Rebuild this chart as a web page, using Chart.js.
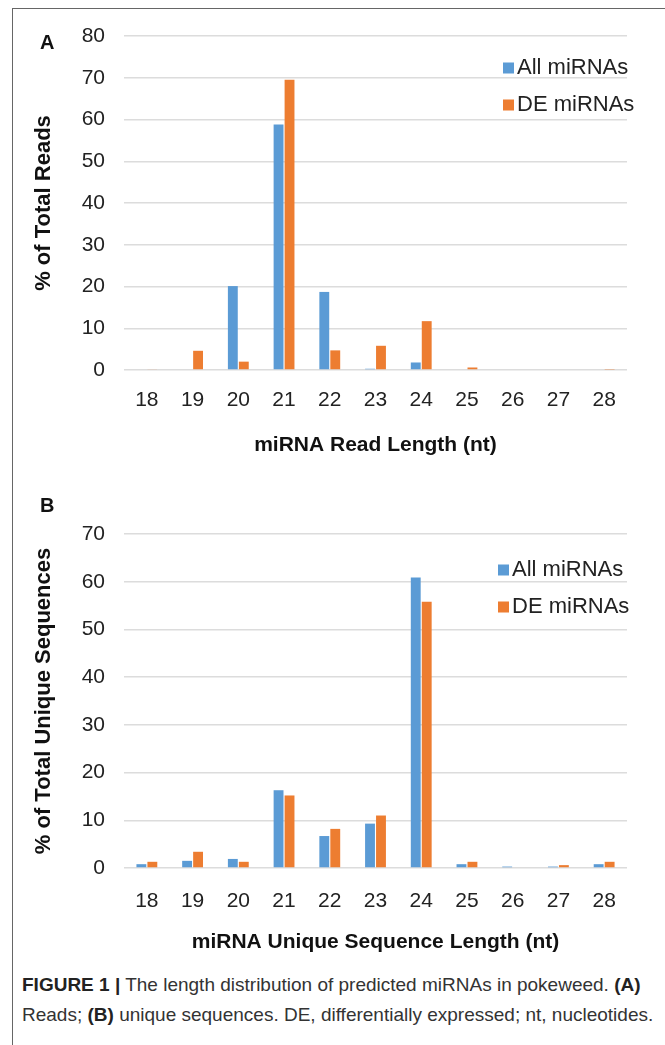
<!DOCTYPE html>
<html>
<head>
<meta charset="utf-8">
<script src="https://cdn.jsdelivr.net/npm/chart.js@4/dist/chart.umd.min.js"></script>
<style>
  body { margin: 0; background: #fff; width: 665px; height: 1045px; position: relative; overflow: hidden; font-family: "Liberation Sans", Arial, sans-serif; }
  #frame { position: absolute; left: 12px; top: 8px; width: 700px; height: 1100px; border-left: 1.5px solid #666; border-top: 1.5px solid #666; }
  .wrap { position: absolute; left: 0; width: 665px; }
  .panel { position: absolute; left: 40px; font-weight: bold; font-size: 20px; color: #111; }
  #caption { position: absolute; left: 22px; top: 970px; font-family: "Liberation Sans Narrow", "Liberation Sans", sans-serif; font-size: 19px; line-height: 30px; color: #333; }
  #caption b { color: #222; }
</style>
</head>
<body>
<div id="frame"></div>
<div class="wrap" style="top:0; height:470px"><canvas id="chartA"></canvas></div>
<div class="wrap" style="top:470px; height:500px"><canvas id="chartB"></canvas></div>
<div class="panel" style="top:31px">A</div>
<div class="panel" style="top:494px">B</div>
<div id="caption"><b>FIGURE 1 |</b> The length distribution of predicted miRNAs in pokeweed. <b>(A)</b><br>Reads; <b>(B)</b> unique sequences. DE, differentially expressed; nt, nucleotides.</div>
<script>
const lengths = ['18', '19', '20', '21', '22', '23', '24', '25', '26', '27', '28'];
const seriesNames = ['All miRNAs', 'DE miRNAs'];
const readsAll = [0, 0, 20.1, 58.8, 18.7, 0.3, 1.8, 0, 0, 0, 0];
const readsDE = [0.2, 4.6, 2.0, 69.5, 4.7, 5.8, 11.7, 0.6, 0, 0, 0.1];
const uniqueAll = [0.8, 1.5, 1.9, 16.3, 6.7, 9.3, 60.9, 0.8, 0.3, 0.3, 0.8];
const uniqueDE = [1.3, 3.4, 1.3, 15.2, 8.2, 11.0, 55.8, 1.3, 0, 0.6, 1.3];
const colors = ['#5B9BD5', '#ED7D31'];

// legend drawn as a vertical list over the plot, like the Excel original
const sideLegend = {
    id: 'sideLegend',
    afterDraw(chart, args, opts) {
        const ctx = chart.ctx;
        ctx.save();
        ctx.font = '22px "Liberation Sans", Arial, sans-serif';
        ctx.textBaseline = 'middle';
        chart.data.datasets.forEach((ds, i) => {
            const y = opts.y + i * opts.gap;
            ctx.fillStyle = ds.backgroundColor;
            ctx.fillRect(opts.x, y - 5.5, 11, 11);
            ctx.fillStyle = '#222';
            ctx.fillText(ds.label, opts.x + 14, y);
        });
        ctx.restore();
    }
};

function makeChart(id, all, de, yMax, yTitle, xTitle, geo) {
    const ctx = document.getElementById(id).getContext('2d');
    return new Chart(ctx, {
        type: 'bar',
        data: {
            labels: lengths,
            datasets: [
                {label: seriesNames[0], data: all, backgroundColor: colors[0]},
                {label: seriesNames[1], data: de, backgroundColor: colors[1]}
            ]
        },
        options: {
            responsive: true,
            maintainAspectRatio: false,
            animation: false,
            datasets: {bar: {categoryPercentage: 0.48, barPercentage: 0.9}},
            layout: {padding: {left: 0, right: 38, top: geo.top, bottom: 0}},
            plugins: {
                legend: {display: false},
                tooltip: {enabled: false},
                sideLegend: geo.legend
            },
            scales: {
                x: {
                    grid: {display: false},
                    border: {display: false},
                    ticks: {color: '#222', font: {size: 21}, padding: geo.xTickPad},
                    title: {display: true, text: xTitle, color: '#111',
                        font: {size: 21, weight: 'bold'}, padding: {bottom: geo.xTitlePad}},
                    afterFit: (s) => { s.height = geo.xHeight; }
                },
                y: {
                    min: 0, max: yMax,
                    grid: {color: '#dcdcdc', lineWidth: 1.5, drawTicks: false},
                    border: {display: false},
                    ticks: {stepSize: 10, color: '#222', font: {size: 21}, padding: 19},
                    title: {display: true, text: yTitle, color: '#111',
                        font: {size: 22, weight: 'bold'}, padding: {top: 31}},
                    afterFit: (s) => { s.width = 124; }
                }
            }
        },
        plugins: [sideLegend]
    });
}

makeChart('chartA', readsAll, readsDE, 80, '% of Total Reads', 'miRNA Read Length (nt)',
    {top: 36, xHeight: 100, xTickPad: 10, xTitlePad: 12, legend: {x: 503, y: 68, gap: 37}});
makeChart('chartB', uniqueAll, uniqueDE, 70, '% of Total Unique Sequences', 'miRNA Unique Sequence Length (nt)',
    {top: 64, xHeight: 102, xTickPad: 13, xTitlePad: 15, legend: {x: 498, y: 100, gap: 37}});
</script>
</body>
</html>
